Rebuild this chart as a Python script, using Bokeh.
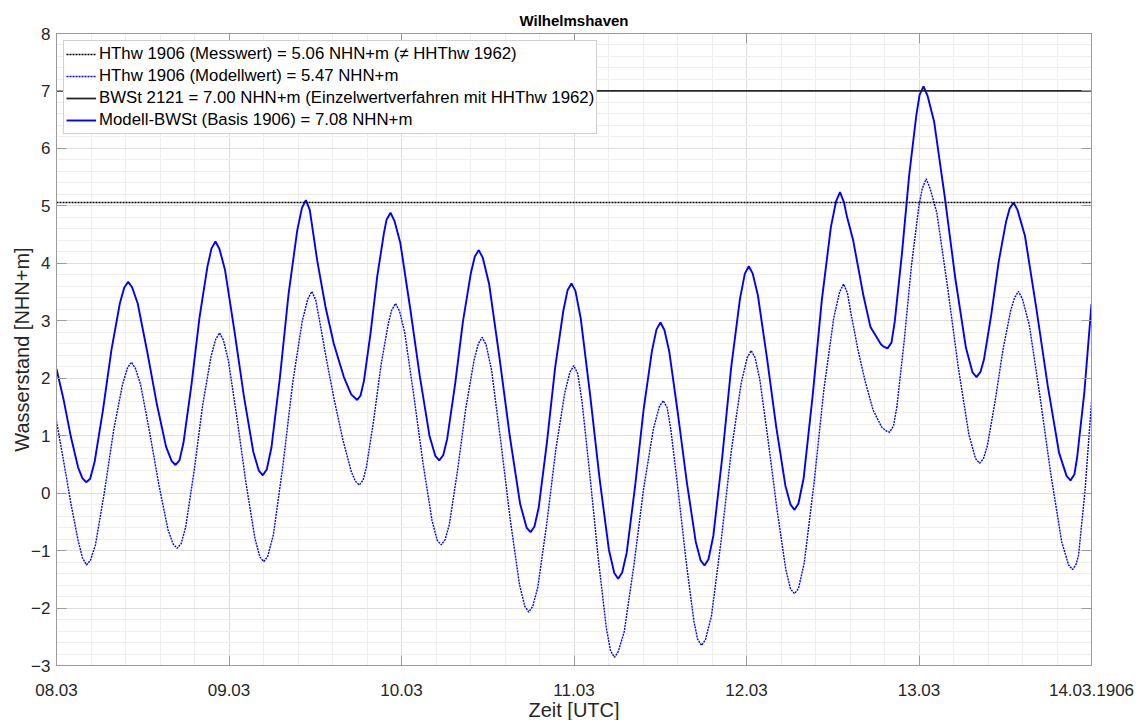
import pandas as pd
from bokeh.plotting import figure
from bokeh.models import Range1d, FixedTicker, Legend, LegendItem, LinearAxis, DatetimeAxis
from bokeh.embed import file_html
from bokeh.resources import INLINE

FONT = "Liberation Sans"

# ---------------- data ----------------
start_date = "1906-03-08 00:00"
end_hours = 144.0

# Modell-BWSt (Basis 1906) – solid blue; hours since 08.03.1906 00:00 UTC
hours_bwst = [0.0, 1.0, 2.0, 3.0, 3.6, 4.13, 4.68, 5.30, 6.47, 7.64, 8.81, 9.43, 9.98, 10.53, 11.30, 12.61,
              13.93, 15.24, 16.01, 16.56, 17.11, 17.67, 18.78, 19.90, 21.01, 21.57, 22.12, 22.67, 23.44,
              24.75, 26.07, 27.38, 28.15, 28.70, 29.25, 29.90, 31.10, 32.29, 33.49, 34.14, 34.69, 35.24,
              36.27, 37.43, 38.58, 39.98, 41.0, 41.84, 42.3, 42.77, 43.70, 44.62, 45.55, 45.92, 46.47,
              47.02, 47.83, 49.18, 50.54, 51.89, 52.7, 53.25, 53.8, 54.35, 55.45, 56.55, 57.65, 58.2,
              58.75, 59.3, 60.19, 61.63, 63.07, 64.51, 65.4, 65.95, 66.5, 67.09, 68.23, 69.37, 70.51,
              71.1, 71.65, 72.2, 72.95, 74.25, 75.55, 76.85, 77.6, 78.15, 78.7, 79.33, 80.50, 81.68,
              82.85, 83.48, 84.03, 84.58, 85.26, 86.48, 87.71, 88.93, 89.61, 90.16, 90.71, 91.39, 92.62,
              93.86, 95.09, 95.77, 96.32, 96.87, 97.59, 98.86, 100.14, 101.41, 102.13, 102.68, 103.23,
              103.95, 105.21, 106.48, 107.74, 108.46, 109.01, 109.56, 110.0, 110.84, 112.28, 113.25,
              114.7, 115.07, 115.62, 116.17, 116.62, 117.62, 118.63, 119.63, 120.08, 120.63, 121.18,
              122.10, 123.58, 125.05, 126.53, 127.45, 128.0, 128.55, 129.03, 130.06, 131.09, 132.12,
              132.6, 133.15, 133.7, 134.74, 136.32, 137.91, 139.49, 140.53, 141.08, 141.63, 142.0,
              143.0, 144.0]
level_bwst = [2.16, 1.62, 0.98, 0.45, 0.26, 0.19, 0.25, 0.54, 1.45, 2.49, 3.30, 3.58, 3.68, 3.58, 3.30, 2.47,
              1.57, 0.81, 0.56, 0.49, 0.57, 0.88, 1.89, 3.06, 3.95, 4.26, 4.38, 4.25, 3.89,
              2.83, 1.69, 0.72, 0.39, 0.31, 0.41, 0.79, 2.03, 3.47, 4.57, 4.96, 5.10, 4.93,
              4.05, 3.24, 2.60, 2.02, 1.72, 1.62, 1.70, 1.95, 2.79, 3.77, 4.52, 4.76, 4.88,
              4.74, 4.36, 3.24, 2.04, 1.00, 0.65, 0.57, 0.66, 0.94, 1.89, 2.99, 3.83, 4.12,
              4.23, 4.10, 3.64, 2.36, 0.99, -0.19, -0.60, -0.68, -0.58, -0.25, 0.88, 2.18, 3.17,
              3.53, 3.65, 3.52, 3.03, 1.70, 0.26, -0.98, -1.39, -1.49, -1.38, -1.04, 0.12, 1.45,
              2.48, 2.85, 2.97, 2.84, 2.46, 1.36, 0.18, -0.84, -1.17, -1.26, -1.15, -0.74, 0.62,
              2.18, 3.38, 3.82, 3.95, 3.82, 3.44, 2.34, 1.15, 0.13, -0.20, -0.29, -0.18,
              0.26, 1.70, 3.36, 4.63, 5.08, 5.24, 5.06, 4.80, 4.40, 3.43, 2.89,
              2.59, 2.55, 2.52, 2.62, 2.98, 4.16, 5.53, 6.58, 6.93, 7.08, 6.92,
              6.47, 5.16, 3.74, 2.53, 2.10, 2.02, 2.11, 2.32, 3.11, 4.03, 4.73,
              4.95, 5.06, 4.93, 4.48, 3.22, 1.87, 0.70, 0.30, 0.22, 0.33, 0.62,
              1.75, 3.29]

# HThw 1906 (Modellwert) – dotted blue
hours_hthw = [0.0, 1.0, 2.0, 3.0, 3.6, 4.17, 4.72, 5.42, 6.67, 7.93, 9.18, 9.88, 10.43, 10.98, 11.70, 12.97,
              14.25, 15.52, 16.24, 16.79, 17.34, 17.97, 19.15, 20.32, 21.50, 22.13, 22.68, 23.23, 23.91,
              25.14, 26.38, 27.61, 28.29, 28.84, 29.39, 30.18, 31.52, 32.85, 34.18, 34.97, 35.52, 36.07,
              36.6, 37.6, 38.6, 39.8, 41.0, 41.57, 42.12, 42.67, 43.13, 44.14, 45.15, 46.16, 46.62,
              47.17, 47.72, 48.44, 49.71, 50.98, 52.25, 52.97, 53.52, 54.07, 54.66, 55.80, 56.95, 58.09,
              58.68, 59.23, 59.78, 60.53, 61.82, 63.12, 64.41, 65.16, 65.71, 66.26, 66.96, 68.21, 69.47,
              70.72, 71.42, 71.97, 72.52, 73.10, 74.23, 75.37, 76.50, 77.08, 77.63, 78.18, 78.99, 80.34,
              81.70, 83.05, 83.86, 84.41, 84.96, 85.48, 86.54, 87.61, 88.67, 89.19, 89.74, 90.29, 91.12,
              92.50, 93.89, 95.27, 96.1, 96.65, 97.2, 97.86, 99.06, 100.27, 101.47, 102.13, 102.68,
              103.23, 104.04, 105.41, 106.77, 108.14, 108.95, 109.5, 110.05, 110.5, 111.5, 112.5, 113.6,
              114.8, 115.35, 115.9, 116.45, 116.92, 117.94, 118.96, 119.98, 120.45, 121.0, 121.55,
              122.48, 123.97, 125.45, 126.94, 127.87, 128.42, 128.97, 129.50, 130.59, 131.67, 132.76,
              133.29, 133.84, 134.39, 135.34, 136.85, 138.35, 139.86, 140.81, 141.36, 141.85, 142.2,
              143.1, 144.0]
level_hthw = [1.25, 0.55, -0.18, -0.82, -1.12, -1.25, -1.17, -0.90, 0.02, 1.08, 1.89, 2.18, 2.28, 2.17, 1.89, 1.05,
              0.14, -0.64, -0.89, -0.96, -0.88, -0.59, 0.39, 1.52, 2.38, 2.67, 2.79, 2.66, 2.31,
              1.28, 0.16, -0.79, -1.11, -1.19, -1.10, -0.72, 0.50, 1.91, 2.99, 3.38, 3.51, 3.36,
              3.00, 2.30, 1.65, 0.95, 0.38, 0.21, 0.14, 0.23, 0.46, 1.28, 2.23, 2.95, 3.18,
              3.30, 3.17, 2.80, 1.70, 0.53, -0.48, -0.82, -0.90, -0.81, -0.54, 0.40, 1.48, 2.31,
              2.60, 2.71, 2.58, 2.14, 0.89, -0.45, -1.59, -1.97, -2.07, -1.97, -1.64, -0.53, 0.76,
              1.75, 2.10, 2.22, 2.08, 1.61, 0.29, -1.13, -2.35, -2.74, -2.86, -2.75, -2.41, -1.25,
              0.09, 1.12, 1.50, 1.61, 1.49, 1.10, -0.01, -1.20, -2.22, -2.54, -2.65, -2.55, -2.14,
              -0.80, 0.74, 1.92, 2.36, 2.48, 2.36, 1.97, 0.87, -0.31, -1.33, -1.67, -1.75,
              -1.66, -1.21, 0.19, 1.81, 3.05, 3.50, 3.64, 3.48, 3.15, 2.50, 1.95, 1.45,
              1.15, 1.09, 1.06, 1.17, 1.50, 2.65, 3.97, 4.99, 5.30, 5.47, 5.30,
              4.88, 3.59, 2.20, 1.02, 0.60, 0.52, 0.60, 0.82, 1.60, 2.49, 3.18,
              3.40, 3.51, 3.38, 2.93, 1.67, 0.32, -0.85, -1.25, -1.33, -1.24, -1.08,
              0.05, 1.58]

hthw_messwert = 5.06
bwst_2121 = 7.00

x_tick_labels = ["08.03", "09.03", "10.03", "11.03", "12.03", "13.03", "14.03.1906"]
y_ticks = [-3, -2, -1, 0, 1, 2, 3, 4, 5, 6, 7, 8]

legend_labels = [
    "HThw 1906 (Messwert) = 5.06 NHN+m (\u2260 HHThw 1962)",
    "HThw 1906 (Modellwert) = 5.47 NHN+m",
    "BWSt 2121 = 7.00 NHN+m (Einzelwertverfahren mit HHThw 1962)",
    "Modell-BWSt (Basis 1906) = 7.08 NHN+m",
]

# ---------------- conversions ----------------
t0 = pd.Timestamp(start_date)
t_end = t0 + pd.Timedelta(hours=end_hours)
x_bwst = t0 + pd.to_timedelta(hours_bwst, unit="h")
x_hthw = t0 + pd.to_timedelta(hours_hthw, unit="h")
epoch = pd.Timestamp("1970-01-01")


def to_ms(ts):
    return float((ts - epoch) / pd.Timedelta(milliseconds=1))


tick_ms = [to_ms(t0 + pd.Timedelta(days=i)) for i in range(len(x_tick_labels))]
minor_x_ms = [to_ms(t0 + pd.Timedelta(minutes=288 * k)) for k in range(31)]
minor_y = [round(-3 + 0.2 * k, 1) for k in range(56)]

AX = "#9a9a9a"
TXT = "#262626"

p = figure(frame_width=1035, frame_height=632, x_axis_type="datetime",
           x_range=Range1d(t0, t_end), y_range=Range1d(-3, 8),
           output_backend="svg", toolbar_location=None,
           min_border_left=56, min_border_right=46, min_border_top=33, min_border_bottom=40,
           background_fill_color="white", border_fill_color="white")

xt = FixedTicker(ticks=tick_ms, minor_ticks=minor_x_ms)
yt = FixedTicker(ticks=y_ticks, minor_ticks=minor_y)
p.xaxis.ticker = xt
p.yaxis.ticker = yt
p.xaxis.major_label_overrides = {t: lab for t, lab in zip(tick_ms, x_tick_labels)}

for ax in (p.xaxis[0], p.yaxis[0]):
    ax.major_tick_in = 10
    ax.major_tick_out = 0
    ax.minor_tick_in = 0
    ax.minor_tick_out = 0
    ax.axis_line_color = AX
    ax.major_tick_line_color = AX
    ax.major_label_text_font = FONT
    ax.major_label_text_font_size = "17px"
    ax.major_label_text_color = TXT
    ax.axis_label_text_font = FONT
    ax.axis_label_text_font_size = "20px"
    ax.axis_label_text_font_style = "normal"
    ax.axis_label_text_color = TXT

p.xaxis.axis_label = "Zeit [UTC]"
p.yaxis.axis_label = "Wasserstand [NHN+m]"
p.xaxis.major_label_standoff = 18
p.xaxis.axis_label_standoff = 0
p.yaxis.major_label_standoff = 6
p.yaxis.axis_label_standoff = -5

right_ax = LinearAxis(ticker=yt, major_label_text_font_size="0px", major_label_standoff=0,
                      major_tick_in=10, major_tick_out=0, minor_tick_in=0, minor_tick_out=0,
                      axis_line_color=AX, major_tick_line_color=AX)
p.add_layout(right_ax, "right")
top_ax = DatetimeAxis(ticker=xt, major_label_text_font_size="0px", major_label_standoff=0,
                      major_tick_in=10, major_tick_out=0, minor_tick_in=0, minor_tick_out=0,
                      axis_line_color=AX, major_tick_line_color=AX)
p.add_layout(top_ax, "above")

p.xgrid.grid_line_color = "#dedede"
p.ygrid.grid_line_color = "#dedede"
p.xgrid.minor_grid_line_color = "#eeeeee"
p.ygrid.minor_grid_line_color = "#eeeeee"
p.outline_line_color = AX

p.title.text = "Wilhelmshaven"
p.title.align = "center"
p.title.text_font = FONT
p.title.text_font_size = "15px"
p.title.text_font_style = "bold"
p.title.text_color = "black"
p.title.standoff = 10

r_hthw = p.line(x_hthw, level_hthw, line_color="#0000ff", line_width=1.4, line_dash="2 1")
r_bwst = p.line(x_bwst, level_bwst, line_color="#0000ff", line_width=1.9)
r_mess = p.line([t0, t_end], [hthw_messwert, hthw_messwert], line_color="#000000", line_width=1.5,
                line_dash="2 1")
r_2121 = p.line([t0, t_end], [bwst_2121, bwst_2121], line_color="#262626", line_width=1.8)

legend = Legend(items=[LegendItem(label=legend_labels[0], renderers=[r_mess]),
                       LegendItem(label=legend_labels[1], renderers=[r_hthw]),
                       LegendItem(label=legend_labels[2], renderers=[r_2121]),
                       LegendItem(label=legend_labels[3], renderers=[r_bwst])],
                location="top_left", margin=7, padding=2, spacing=0,
                glyph_width=30, glyph_height=22, label_height=22, label_standoff=3,
                label_text_font=FONT, label_text_font_size="16.8px", label_text_color="black",
                border_line_color="#a0a0a0", border_line_width=1,
                background_fill_color="white", background_fill_alpha=1.0)
p.add_layout(legend, "center")

open("out.html", "w").write(file_html(p, INLINE))
